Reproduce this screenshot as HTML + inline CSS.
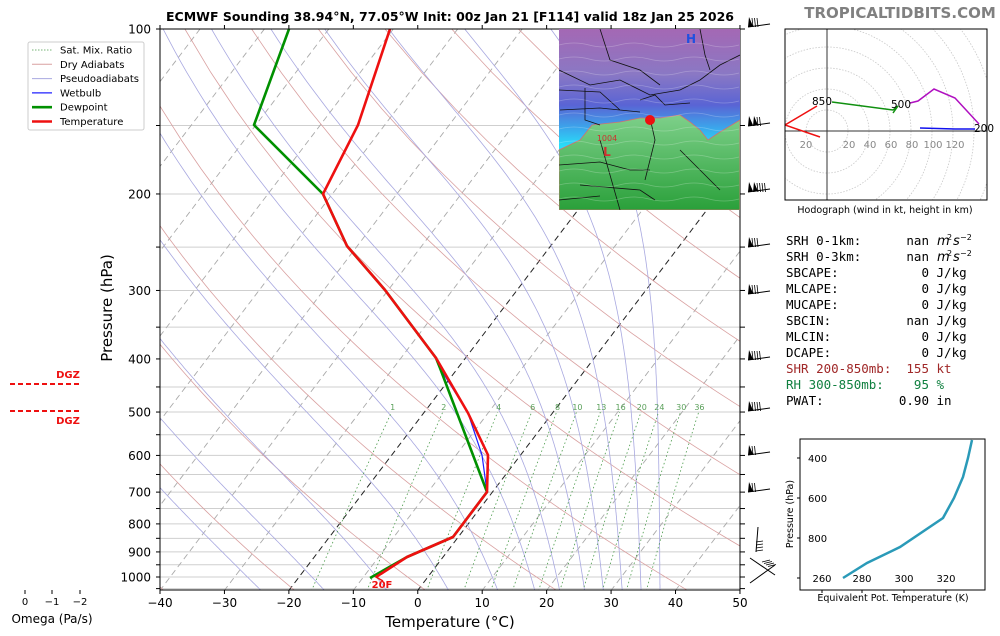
<!DOCTYPE html>
<html><head><meta charset="utf-8"><style>
html,body{margin:0;padding:0;background:#fff;width:1000px;height:636px;overflow:hidden}
svg text{font-family:"DejaVu Sans","Liberation Sans",sans-serif}
.m{font-family:"DejaVu Sans Mono","Liberation Mono",monospace;font-size:12.5px;white-space:pre}
</style></head><body>
<svg id="s" width="1000" height="636" viewBox="0 0 1000 636" xmlns="http://www.w3.org/2000/svg">
<defs>
<clipPath id="cp"><rect x="160" y="29" width="580" height="561"/></clipPath>
<clipPath id="mc"><rect x="559" y="29" width="181" height="181"/></clipPath>
<clipPath id="hc"><rect x="785" y="29" width="202" height="171"/></clipPath>
<linearGradient id="mg" x1="0" y1="0" x2="0" y2="1">
<stop offset="0" stop-color="#a468b4"/><stop offset="0.25" stop-color="#8a78c4"/>
<stop offset="0.42" stop-color="#5a64d4"/><stop offset="0.55" stop-color="#3aa8ec"/>
<stop offset="0.65" stop-color="#28e0f8"/><stop offset="1" stop-color="#28e0f8"/></linearGradient>
<linearGradient id="gg" x1="0" y1="0" x2="0" y2="1">
<stop offset="0" stop-color="#7ed08a"/><stop offset="1" stop-color="#2aa03a"/></linearGradient>
</defs>
<g id="bg" clip-path="url(#cp)"></g>
<g id="fg"></g>
</svg>
<script>
const NS="http://www.w3.org/2000/svg";
const bg=document.getElementById('bg'), fg=document.getElementById('fg');
function el(par,tag,attrs,txt){const e=document.createElementNS(NS,tag);for(const k in attrs)e.setAttribute(k,attrs[k]);if(txt!==undefined)e.textContent=txt;par.appendChild(e);return e;}
function Y(p){return 29+(Math.log10(p)-2)*548;}
function X(T,p){return 418+T*6.444+(590-Y(p))*0.76;}
function poly(par,pts,attrs){attrs.points=pts.map(q=>q[0].toFixed(1)+','+q[1].toFixed(1)).join(' ');attrs.fill='none';return el(par,'polyline',attrs);}
for(let p=100;p<=1050;p+=50){el(bg,'line',{x1:160,x2:740,y1:Y(p),y2:Y(p),stroke:'#cfcfcf','stroke-width':1});}
for(let T=-130;T<=50;T+=10){const blk=(T==0||T==-20);poly(bg,[[X(T,1060),Y(1060)],[X(T,100),Y(100)]],{stroke:blk?'#222':'#aaa','stroke-width':blk?1:0.9,'stroke-dasharray':'6,4'});}
for(let th=230;th<=520;th+=20){const pts=[];for(let p=100;p<=1060;p+=20){const T=th*Math.pow(p/1000,0.286)-273.15;pts.push([X(T,p),Y(p)]);}poly(bg,pts,{stroke:'#d9a0a0','stroke-width':0.8});}
function es(T){return 6.112*Math.exp(17.67*T/(T+243.5));}
function dTdp(T,p){const Tk=T+273.15;const e=es(T);const rs=0.622*e/(p-e);const Rd=287,Lv=2.5e6,cp=1005;return (1/p)*(Rd*Tk+Lv*rs)/(cp+Lv*Lv*rs*0.622/(Rd*Tk*Tk));}
[-28,-18,-8,2,10,16,20,24,27,30,33,36].forEach(T0=>{let pts=[];let T=T0;let p;for(p=1000;p<=1060;p+=5){pts.push([X(T,p),Y(p)]);T+=dTdp(T,p)*5;}
pts.reverse();T=T0;for(p=1000;p>=100;p-=5){pts.push([X(T,p),Y(p)]);T-=dTdp(T,p)*5;}
poly(bg,pts,{stroke:'#a8a8e0','stroke-width':0.8});});
[1,2,4,6,8,10,13,16,20,24,30,36].forEach(w=>{const pts=[];for(let p=1060;p>=500;p-=20){const e=w*p/(622+w);const l=Math.log(e/6.112);const Td=243.5*l/(17.67-l);pts.push([X(Td,p),Y(p)]);}
poly(bg,pts,{stroke:'#4a9a4a','stroke-width':0.8,'stroke-dasharray':'1.5,2.5'});
const e=w*495/(622+w);const l=Math.log(e/6.112);const Td=243.5*l/(17.67-l);
el(bg,'text',{x:X(Td,495),y:410,'font-size':8,fill:'#5aa05a','text-anchor':'middle'},String(w));});
poly(bg,[[440,368],[468,413],[482,455],[487,492]],{stroke:'#2020ff','stroke-width':1.2});
poly(bg,[[289,29],[254,125],[323,194],[347,246],[385,290],[436,358],[440,368],[487,492],[453,537],[407,557],[370,578]],{stroke:'#009000','stroke-width':2.6,'stroke-linejoin':'round'});
poly(bg,[[390,29],[358,125],[323,194],[347,246],[385,290],[436,358],[468,413],[488,455],[487,492],[453,537],[407,557],[376,577]],{stroke:'#ee1010','stroke-width':2.6,'stroke-linejoin':'round'});
poly(bg,[[383,573],[376,577],[383,581]],{stroke:'#ee1010','stroke-width':1.5});
el(fg,'text',{x:382,y:588,'font-size':10,'font-weight':'bold',fill:'#ee1010','text-anchor':'middle'},'20F');
el(fg,'rect',{x:160,y:29,width:580,height:561,fill:'none',stroke:'#000','stroke-width':1});
for(let T=-40;T<=50;T+=10){const x=160+(T+40)*6.444;el(fg,'line',{x1:x,x2:x,y1:590,y2:594,stroke:'#000'});el(fg,'text',{x:x,y:607,'font-size':12,'text-anchor':'middle'},T<0?'\u2212'+(-T):String(T));}
for(let T=-40;T<=50;T+=10){const x=160+(T+40)*6.444;el(fg,'line',{x1:x,x2:x,y1:29,y2:25,stroke:'#000'});}
[100,200,300,400,500,600,700,800,900,1000].forEach(p=>{el(fg,'text',{x:151,y:Y(p)+4.5,'font-size':12,'text-anchor':'end'},String(p));});
for(let p=100;p<=1050;p+=50){el(fg,'line',{x1:156,x2:160,y1:Y(p),y2:Y(p),stroke:'#000'});el(fg,'line',{x1:740,x2:745,y1:Y(p),y2:Y(p),stroke:'#000'});}
el(fg,'text',{x:450,y:627,'font-size':15,'text-anchor':'middle'},'Temperature (°C)');
el(fg,'text',{x:112,y:308,'font-size':15,'text-anchor':'middle',transform:'rotate(-90 112 308)'},'Pressure (hPa)');
el(fg,'text',{x:450,y:21,'font-size':12.5,'font-weight':'bold','text-anchor':'middle'},'ECMWF Sounding 38.94°N, 77.05°W Init: 00z Jan 21 [F114] valid 18z Jan 25 2026');
el(fg,'text',{x:900,y:18,'font-size':15,'font-weight':'bold',fill:'#808080','text-anchor':'middle'},'TROPICALTIDBITS.COM');
el(fg,'rect',{x:28,y:42,width:116,height:88,fill:'#fff',stroke:'#ccc',rx:2});
const leg=[['Sat. Mix. Ratio','#4a9a4a',0.8,'1.5,1.5'],['Dry Adiabats','#d9a0a0',1,''],['Pseudoadiabats','#a8a8e0',1,''],['Wetbulb','#2020ff',1.3,''],['Dewpoint','#009000',2.6,''],['Temperature','#ee1010',2.6,'']];
leg.forEach((l,i)=>{const y=50+i*14.3;const a={x1:32,x2:52,y1:y,y2:y,stroke:l[1],'stroke-width':l[2]};if(l[3])a['stroke-dasharray']=l[3];el(fg,'line',a);el(fg,'text',{x:60,y:y+3.5,'font-size':10},l[0]);});
[[384,'DGZ',378],[411,'DGZ',424]].forEach(d=>{el(fg,'line',{x1:10,x2:80,y1:d[0],y2:d[0],stroke:'#ee1010','stroke-width':2,'stroke-dasharray':'5,3'});el(fg,'text',{x:68,y:d[2],'font-size':10,'font-weight':'bold',fill:'#ee1010','text-anchor':'middle'},d[1]);});
[[25,'0'],[52,'\u22121'],[80,'\u22122']].forEach(t=>{el(fg,'line',{x1:t[0],x2:t[0],y1:590,y2:594,stroke:'#000'});el(fg,'text',{x:t[0],y:605,'font-size':10,'text-anchor':'middle'},t[1]);});
el(fg,'text',{x:52,y:623,'font-size':12,'text-anchor':'middle'},'Omega (Pa/s)');
function barb(x,y,n,f){const g=el(fg,'g',{});el(g,'line',{x1:x,y1:y,x2:x+22,y2:y-3,stroke:'#000','stroke-width':1});
for(let i=0;i<n;i++){const bx=x+i*5;el(g,'polygon',{points:`${bx},${y} ${bx+5},${y-0.7} ${bx+1},${y-10}`,fill:'#000'});}
for(let i=0;i<f;i++){const bx=x+n*5+i*2.5;el(g,'line',{x1:bx,y1:y,x2:bx-1,y2:y-9,stroke:'#000','stroke-width':0.8});}}
barb(748,27,1,3);barb(748,126,2,2);barb(748,192,2,4);barb(748,247,1,3);barb(748,294,1,3);barb(748,360,1,4);barb(748,411,1,4);barb(748,455,1,2);barb(748,492,1,2);
el(fg,'line',{x1:758,y1:527,x2:756,y2:552,stroke:'#000'});for(let i=0;i<4;i++)el(fg,'line',{x1:756,y1:542+i*3,x2:763,y2:541+i*3,stroke:'#000','stroke-width':0.8});
el(fg,'line',{x1:750,y1:558,x2:775,y2:575,stroke:'#000'});for(let i=0;i<4;i++)el(fg,'line',{x1:762+i*2,y1:562+i*1.5,x2:770+i*2,y2:560+i*1.5,stroke:'#000','stroke-width':0.8});
el(fg,'line',{x1:750,y1:583,x2:775,y2:565,stroke:'#000'});
const mg=el(fg,'g',{'clip-path':'url(#mc)'});
el(mg,'rect',{x:559,y:29,width:181,height:181,fill:'url(#mg)'});
el(mg,'path',{d:'M559,150 L580,140 L592,125 L620,122 L640,118 L660,118 L680,115 L690,122 L700,130 L708,140 L720,132 L740,120 L740,210 L559,210 Z',fill:'url(#gg)',stroke:'#d07070','stroke-width':0.8});
el(mg,'path',{d:'M559,70 L590,85 L620,80 L650,95 L680,90 L700,80 L720,65 L740,55 M600,29 L610,60 L640,70 L660,85 M640,100 L655,95 L665,105 L690,103 M559,90 L600,92 L620,110 M585,88 L585,120 L600,125 M650,118 L655,140 L650,160 L645,180 M559,165 L600,162 L630,170 L650,170 M580,185 L640,190 L655,200 M700,29 L705,55 L710,70 M560,110 L600,108 L640,112 M600,140 L610,175 L620,210 M680,150 L700,170 L720,190 M559,200 L600,196',fill:'none',stroke:'#111','stroke-width':0.8});
for(let yy=45;yy<210;yy+=14)el(mg,'path',{d:`M559,${yy} q15,-4 30,0 t30,0 t30,0 t30,0 t30,0 t30,0`,fill:'none',stroke:'rgba(255,255,255,0.25)','stroke-width':0.8});
el(mg,'circle',{cx:650,cy:120,r:5,fill:'#ee1010'});
el(mg,'text',{x:691,y:43,'font-size':12,'font-weight':'bold',fill:'#2050e0','text-anchor':'middle','font-family':'Liberation Serif,serif'},'H');
el(mg,'text',{x:607,y:141,'font-size':8,fill:'#d03030','text-anchor':'middle'},'1004');
el(mg,'text',{x:607,y:156,'font-size':12,'font-weight':'bold',fill:'#d03030','text-anchor':'middle','font-family':'Liberation Serif,serif'},'L');
const hg=el(fg,'g',{'clip-path':'url(#hc)'});
for(let r=21;r<=210;r+=21)el(hg,'circle',{cx:827,cy:131,r:r,fill:'none',stroke:'#c8c8c8','stroke-dasharray':'1.5,1.5','stroke-width':0.8});
el(hg,'line',{x1:785,x2:987,y1:131,y2:131,stroke:'#333'});el(hg,'line',{x1:827,x2:827,y1:29,y2:200,stroke:'#333'});
[[806,'20'],[849,'20'],[870,'40'],[891,'60'],[912,'80'],[933,'100'],[955,'120']].forEach(t=>el(hg,'text',{x:t[0],y:148,'font-size':10,fill:'#888','text-anchor':'middle'},t[1]));
poly(hg,[[817,106],[785,125],[820,137]],{stroke:'#ee1010','stroke-width':1.5});
poly(hg,[[832,102],[893,110],[898,106],[893,113]],{stroke:'#109010','stroke-width':1.5});
poly(hg,[[910,103],[918,101],[934,89],[955,98],[979,124]],{stroke:'#b010c0','stroke-width':1.5});
poly(hg,[[920,128],[955,129],[975,129]],{stroke:'#1010ee','stroke-width':1.5});
el(hg,'text',{x:822,y:105,'font-size':10.5,'text-anchor':'middle'},'850');
el(hg,'text',{x:901,y:108,'font-size':10.5,'text-anchor':'middle'},'500');
el(fg,'text',{x:984,y:132,'font-size':10.5,'text-anchor':'middle'},'200');
el(fg,'rect',{x:785,y:29,width:202,height:171,fill:'none',stroke:'#000'});
el(fg,'text',{x:885,y:213,'font-size':9.5,'text-anchor':'middle'},'Hodograph (wind in kt, height in km)');
const rows=[['SRH 0-1km:      nan','#000',1],['SRH 0-3km:      nan','#000',1],['SBCAPE:           0 J/kg','#000'],['MLCAPE:           0 J/kg','#000'],['MUCAPE:           0 J/kg','#000'],['SBCIN:          nan J/kg','#000'],['MLCIN:            0 J/kg','#000'],['DCAPE:            0 J/kg','#000'],['SHR 200-850mb:  155 kt','#a02828'],['RH 300-850mb:    95 %','#108040'],['PWAT:          0.90 in','#000']];
const ys=[245,261,277,293,309,325,341,357,373,389,405];
rows.forEach((r,i)=>{el(fg,'text',{x:786,y:ys[i],fill:r[1],class:'m'},r[0]);
if(r[2]){el(fg,'text',{x:937,y:ys[i],'font-size':13,'font-style':'italic'},'m');el(fg,'text',{x:947,y:ys[i]-5,'font-size':8},'2');el(fg,'text',{x:953,y:ys[i],'font-size':13,'font-style':'italic'},'s');el(fg,'text',{x:960,y:ys[i]-5,'font-size':8},'\u22122');}});
el(fg,'rect',{x:800,y:439,width:185,height:151,fill:'none',stroke:'#000'});
[[458,'400'],[498,'600'],[538,'800'],[578,'']].forEach(t=>{el(fg,'line',{x1:797,x2:800,y1:t[0],y2:t[0],stroke:'#000'});if(t[1])el(fg,'text',{x:808,y:t[0]+4,'font-size':10},t[1]);});
[[822,'260'],[862,'280'],[904,'300'],[946,'320']].forEach(t=>{el(fg,'line',{x1:t[0],x2:t[0],y1:590,y2:593,stroke:'#000'});el(fg,'text',{x:t[0],y:582,'font-size':10,'text-anchor':'middle'},t[1]);});
poly(fg,[[843,578],[867,563],[900,547],[943,518],[954,498],[963,477],[968,458],[972,440]],{stroke:'#2a9ab8','stroke-width':2.5});
el(fg,'text',{x:893,y:601,'font-size':9.5,'text-anchor':'middle'},'Equivalent Pot. Temperature (K)');
el(fg,'text',{x:793,y:514,'font-size':9.5,'text-anchor':'middle',transform:'rotate(-90 793 514)'},'Pressure (hPa)');
</script>
</body></html>
